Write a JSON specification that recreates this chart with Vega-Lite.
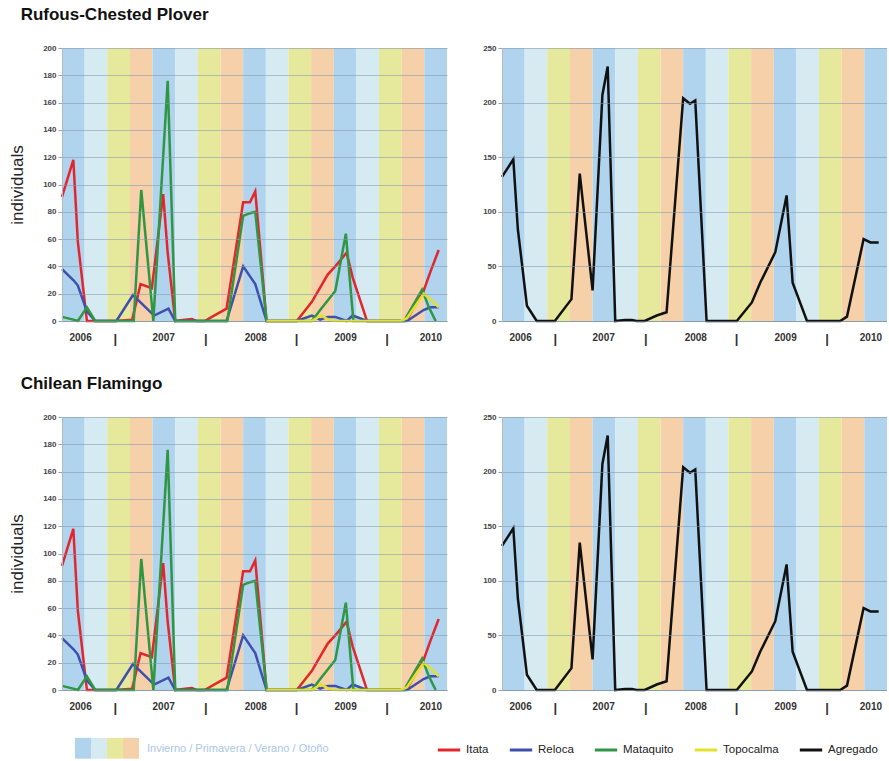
{
  "$schema": "https://vega.github.io/schema/vega-lite/v6.json",
  "padding": {"left": 8, "top": 6, "right": 0, "bottom": 0},
  "config": {"font": "Liberation Sans", "view": {"stroke": null}},
  "datasets": {
    "seasons": [
      {"season": "Invierno", "start": 0, "end": 3}, {"season": "Primavera", "start": 3, "end": 6}, {"season": "Verano", "start": 6, "end": 9}, {"season": "Otoño", "start": 9, "end": 12},
      {"season": "Invierno", "start": 12, "end": 15}, {"season": "Primavera", "start": 15, "end": 18}, {"season": "Verano", "start": 18, "end": 21}, {"season": "Otoño", "start": 21, "end": 24},
      {"season": "Invierno", "start": 24, "end": 27}, {"season": "Primavera", "start": 27, "end": 30}, {"season": "Verano", "start": 30, "end": 33}, {"season": "Otoño", "start": 33, "end": 36},
      {"season": "Invierno", "start": 36, "end": 39}, {"season": "Primavera", "start": 39, "end": 42}, {"season": "Verano", "start": 42, "end": 45}, {"season": "Otoño", "start": 45, "end": 48},
      {"season": "Invierno", "start": 48, "end": 51}
    ],
    "sites": [
      {"month": 0, "site": "Itata", "value": 91}, {"month": 1.5, "site": "Itata", "value": 118}, {"month": 2.1, "site": "Itata", "value": 58}, {"month": 3.3, "site": "Itata", "value": 0}, {"month": 4.6, "site": "Itata", "value": 0}, {"month": 7, "site": "Itata", "value": 0}, {"month": 9.3, "site": "Itata", "value": 1}, {"month": 10.4, "site": "Itata", "value": 27}, {"month": 11.9, "site": "Itata", "value": 24}, {"month": 13.4, "site": "Itata", "value": 93}, {"month": 14, "site": "Itata", "value": 50}, {"month": 15, "site": "Itata", "value": 0}, {"month": 16.3, "site": "Itata", "value": 1}, {"month": 17.2, "site": "Itata", "value": 1.5}, {"month": 17.8, "site": "Itata", "value": 0}, {"month": 18.9, "site": "Itata", "value": 0}, {"month": 20.5, "site": "Itata", "value": 5}, {"month": 21.8, "site": "Itata", "value": 9}, {"month": 24, "site": "Itata", "value": 87}, {"month": 24.9, "site": "Itata", "value": 87}, {"month": 25.6, "site": "Itata", "value": 95}, {"month": 27.1, "site": "Itata", "value": 0}, {"month": 29.3, "site": "Itata", "value": 0}, {"month": 31.1, "site": "Itata", "value": 0}, {"month": 33.1, "site": "Itata", "value": 14}, {"month": 35.2, "site": "Itata", "value": 34}, {"month": 36.2, "site": "Itata", "value": 40}, {"month": 37.7, "site": "Itata", "value": 50}, {"month": 38.5, "site": "Itata", "value": 32}, {"month": 40.4, "site": "Itata", "value": 0}, {"month": 44.8, "site": "Itata", "value": 0}, {"month": 45.7, "site": "Itata", "value": 1}, {"month": 47.9, "site": "Itata", "value": 22}, {"month": 48.8, "site": "Itata", "value": 36}, {"month": 49.9, "site": "Itata", "value": 52},
      {"month": 0, "site": "Reloca", "value": 38}, {"month": 1.5, "site": "Reloca", "value": 30}, {"month": 2.1, "site": "Reloca", "value": 26}, {"month": 3.3, "site": "Reloca", "value": 7}, {"month": 4.4, "site": "Reloca", "value": 0}, {"month": 7.2, "site": "Reloca", "value": 0}, {"month": 9.4, "site": "Reloca", "value": 19}, {"month": 12.2, "site": "Reloca", "value": 4}, {"month": 14.1, "site": "Reloca", "value": 9}, {"month": 15, "site": "Reloca", "value": 0}, {"month": 16.3, "site": "Reloca", "value": 0}, {"month": 18.9, "site": "Reloca", "value": 0}, {"month": 21.8, "site": "Reloca", "value": 0}, {"month": 24, "site": "Reloca", "value": 40}, {"month": 25.6, "site": "Reloca", "value": 27}, {"month": 27.1, "site": "Reloca", "value": 0}, {"month": 29.3, "site": "Reloca", "value": 0}, {"month": 31.1, "site": "Reloca", "value": 0}, {"month": 33.1, "site": "Reloca", "value": 4}, {"month": 34.2, "site": "Reloca", "value": 1}, {"month": 35.2, "site": "Reloca", "value": 3}, {"month": 36.2, "site": "Reloca", "value": 3}, {"month": 37.7, "site": "Reloca", "value": 0}, {"month": 38.5, "site": "Reloca", "value": 4}, {"month": 40.4, "site": "Reloca", "value": 0}, {"month": 44.8, "site": "Reloca", "value": 0}, {"month": 45.7, "site": "Reloca", "value": 0}, {"month": 47.9, "site": "Reloca", "value": 8}, {"month": 48.8, "site": "Reloca", "value": 10}, {"month": 49.9, "site": "Reloca", "value": 10},
      {"month": 0, "site": "Mataquito", "value": 3}, {"month": 1.5, "site": "Mataquito", "value": 1}, {"month": 2.1, "site": "Mataquito", "value": 0}, {"month": 3.3, "site": "Mataquito", "value": 10}, {"month": 4.4, "site": "Mataquito", "value": 0}, {"month": 7, "site": "Mataquito", "value": 0}, {"month": 9.5, "site": "Mataquito", "value": 0}, {"month": 10.5, "site": "Mataquito", "value": 96}, {"month": 12.1, "site": "Mataquito", "value": 0}, {"month": 14, "site": "Mataquito", "value": 176}, {"month": 15, "site": "Mataquito", "value": 0}, {"month": 16.3, "site": "Mataquito", "value": 0}, {"month": 18.9, "site": "Mataquito", "value": 0}, {"month": 21.9, "site": "Mataquito", "value": 0}, {"month": 24, "site": "Mataquito", "value": 77}, {"month": 24.9, "site": "Mataquito", "value": 79}, {"month": 25.6, "site": "Mataquito", "value": 80}, {"month": 27.1, "site": "Mataquito", "value": 0}, {"month": 29.3, "site": "Mataquito", "value": 0}, {"month": 31.1, "site": "Mataquito", "value": 0}, {"month": 33.1, "site": "Mataquito", "value": 0}, {"month": 34.2, "site": "Mataquito", "value": 8}, {"month": 36.2, "site": "Mataquito", "value": 22}, {"month": 37.6, "site": "Mataquito", "value": 64}, {"month": 38.6, "site": "Mataquito", "value": 0}, {"month": 40.4, "site": "Mataquito", "value": 0}, {"month": 45.3, "site": "Mataquito", "value": 0}, {"month": 47.7, "site": "Mataquito", "value": 23}, {"month": 48.6, "site": "Mataquito", "value": 10}, {"month": 49.5, "site": "Mataquito", "value": 0},
      {"month": 27.1, "site": "Topocalma", "value": 0}, {"month": 29.3, "site": "Topocalma", "value": 0}, {"month": 31.1, "site": "Topocalma", "value": 0}, {"month": 33.1, "site": "Topocalma", "value": 0}, {"month": 34.3, "site": "Topocalma", "value": 4}, {"month": 35.3, "site": "Topocalma", "value": 1}, {"month": 36.2, "site": "Topocalma", "value": 0}, {"month": 40.4, "site": "Topocalma", "value": 0}, {"month": 44.8, "site": "Topocalma", "value": 0}, {"month": 45.7, "site": "Topocalma", "value": 2}, {"month": 47.9, "site": "Topocalma", "value": 20}, {"month": 48.8, "site": "Topocalma", "value": 16}, {"month": 49.9, "site": "Topocalma", "value": 10}
    ],
    "agg": [
      {"month": 0, "site": "Agregado", "value": 132}, {"month": 1.5, "site": "Agregado", "value": 148}, {"month": 2.1, "site": "Agregado", "value": 84}, {"month": 3.3, "site": "Agregado", "value": 14}, {"month": 4.6, "site": "Agregado", "value": 0}, {"month": 7, "site": "Agregado", "value": 0}, {"month": 9.2, "site": "Agregado", "value": 20}, {"month": 10.3, "site": "Agregado", "value": 135}, {"month": 12, "site": "Agregado", "value": 28}, {"month": 13.3, "site": "Agregado", "value": 207}, {"month": 14, "site": "Agregado", "value": 233}, {"month": 15, "site": "Agregado", "value": 0}, {"month": 16.3, "site": "Agregado", "value": 1}, {"month": 17.2, "site": "Agregado", "value": 1}, {"month": 17.8, "site": "Agregado", "value": 0}, {"month": 18.9, "site": "Agregado", "value": 0}, {"month": 20.5, "site": "Agregado", "value": 5}, {"month": 21.8, "site": "Agregado", "value": 8}, {"month": 24, "site": "Agregado", "value": 204}, {"month": 24.9, "site": "Agregado", "value": 199}, {"month": 25.6, "site": "Agregado", "value": 202}, {"month": 27.1, "site": "Agregado", "value": 0}, {"month": 29.3, "site": "Agregado", "value": 0}, {"month": 31.1, "site": "Agregado", "value": 0}, {"month": 33.1, "site": "Agregado", "value": 17}, {"month": 34.2, "site": "Agregado", "value": 35}, {"month": 36.2, "site": "Agregado", "value": 63}, {"month": 37.7, "site": "Agregado", "value": 115}, {"month": 38.5, "site": "Agregado", "value": 35}, {"month": 40.4, "site": "Agregado", "value": 0}, {"month": 44.8, "site": "Agregado", "value": 0}, {"month": 45.7, "site": "Agregado", "value": 4}, {"month": 47.9, "site": "Agregado", "value": 75}, {"month": 48.8, "site": "Agregado", "value": 72}, {"month": 49.9, "site": "Agregado", "value": 72}
    ]
  },
  "spacing": 30,
  "vconcat": [
    {
      "title": {"text": "Rufous-Chested Plover", "anchor": "start", "fontSize": 17, "fontWeight": "bold", "color": "#111", "offset": 20, "dx": 12},
      "spacing": 35,
      "hconcat": [
        {
          "width": 385, "height": 273,
          "layer": [
            {
              "data": {"name": "seasons"},
              "mark": {"type": "rect", "opacity": 1},
              "encoding": {
                "x": {"field": "start", "type": "quantitative", "scale": {"domain": [0, 51], "nice": false, "zero": false},
                  "axis": {"values": [2.4, 7, 13.4, 19, 25.6, 31, 37.5, 43, 48.8], "labelExpr": "(datum.value==7||datum.value==19||datum.value==31||datum.value==43) ? '|' : datum.value<5 ? '2006' : datum.value<17 ? '2007' : datum.value<29 ? '2008' : datum.value<41 ? '2009' : '2010'", "labelFontSize": {"condition": {"test": "datum.value==7||datum.value==19||datum.value==31||datum.value==43", "value": 13}, "value": 10}, "ticks": false, "grid": false, "domain": true, "domainColor": "#9aa4ad", "labelFontWeight": "bold", "labelColor": "#333", "labelPadding": 11, "labelOverlap": false, "labelFlush": false, "title": null}},
                "x2": {"field": "end"},
                "fill": {"field": "season", "type": "nominal", "scale": {"domain": ["Invierno", "Primavera", "Verano", "Otoño"], "range": ["#b0d3ee", "#d5eaf1", "#e6e89b", "#f5d0a8"]},
                  "legend": {"orient": "none", "legendX": 13, "legendY": 692, "direction": "horizontal", "symbolType": "M-1,-1.3H1V1.3H-1Z", "symbolSize": 256, "symbolStrokeWidth": 0, "symbolOpacity": 1, "labelExpr": "''", "labelOffset": 0, "columnPadding": 0, "title": "Invierno / Primavera / Verano / Otoño", "titleLimit": 400, "titleOrient": "right", "titleColor": "#a9c8e4", "titleFontWeight": "normal", "titleFontSize": 11, "titlePadding": 8}}
              }
            },
            {
              "data": {"name": "sites"},
              "mark": {"type": "line", "strokeWidth": 2.5},
              "encoding": {
                "x": {"field": "month", "type": "quantitative", "scale": {"domain": [0, 51], "nice": false, "zero": false},
                  "axis": {"values": [2.4, 7, 13.4, 19, 25.6, 31, 37.5, 43, 48.8], "labelExpr": "(datum.value==7||datum.value==19||datum.value==31||datum.value==43) ? '|' : datum.value<5 ? '2006' : datum.value<17 ? '2007' : datum.value<29 ? '2008' : datum.value<41 ? '2009' : '2010'", "labelFontSize": {"condition": {"test": "datum.value==7||datum.value==19||datum.value==31||datum.value==43", "value": 13}, "value": 10}, "ticks": false, "grid": false, "domain": true, "domainColor": "#9aa4ad", "labelFontWeight": "bold", "labelColor": "#333", "labelPadding": 11, "labelOverlap": false, "labelFlush": false, "title": null}},
                "y": {"field": "value", "type": "quantitative", "scale": {"domain": [0, 200], "nice": false},
                  "axis": {"values": [0, 20, 40, 60, 80, 100, 120, 140, 160, 180, 200], "grid": true, "gridColor": "#7f97ad", "gridOpacity": 0.55, "zindex": 1, "domain": true, "domainColor": "#b0b8c0", "tickSize": 4, "tickColor": "#9aa4ad", "labelFontSize": 8, "labelFontWeight": "bold", "labelColor": "#444", "labelPadding": 2, "title": "individuals", "titleFontSize": 17, "titleFontWeight": "normal", "titleColor": "#222", "titlePadding": 16}},
                "stroke": {"field": "site", "type": "nominal", "scale": {"domain": ["Itata", "Reloca", "Mataquito", "Topocalma", "Agregado"], "range": ["#e3262b", "#3f4fae", "#2f9642", "#e2e22c", "#111111"]},
                  "legend": {"orient": "none", "legendX": 374, "legendY": 689, "direction": "horizontal", "symbolType": "stroke", "symbolStrokeWidth": 3, "symbolSize": 500, "labelFontSize": 11.5, "labelColor": "#222", "columnPadding": 14, "title": null}}
              }
            }
          ]
        },
        {
          "width": 385, "height": 273,
          "layer": [
            {
              "data": {"name": "seasons"},
              "mark": {"type": "rect", "opacity": 1},
              "encoding": {
                "x": {"field": "start", "type": "quantitative", "scale": {"domain": [0, 51], "nice": false, "zero": false},
                  "axis": {"values": [2.4, 7, 13.4, 19, 25.6, 31, 37.5, 43, 48.8], "labelExpr": "(datum.value==7||datum.value==19||datum.value==31||datum.value==43) ? '|' : datum.value<5 ? '2006' : datum.value<17 ? '2007' : datum.value<29 ? '2008' : datum.value<41 ? '2009' : '2010'", "labelFontSize": {"condition": {"test": "datum.value==7||datum.value==19||datum.value==31||datum.value==43", "value": 13}, "value": 10}, "ticks": false, "grid": false, "domain": true, "domainColor": "#9aa4ad", "labelFontWeight": "bold", "labelColor": "#333", "labelPadding": 11, "labelOverlap": false, "labelFlush": false, "title": null}},
                "x2": {"field": "end"},
                "fill": {"field": "season", "type": "nominal", "scale": {"domain": ["Invierno", "Primavera", "Verano", "Otoño"], "range": ["#b0d3ee", "#d5eaf1", "#e6e89b", "#f5d0a8"]},
                  "legend": {"orient": "none", "legendX": 13, "legendY": 692, "direction": "horizontal", "symbolType": "M-1,-1.3H1V1.3H-1Z", "symbolSize": 256, "symbolStrokeWidth": 0, "symbolOpacity": 1, "labelExpr": "''", "labelOffset": 0, "columnPadding": 0, "title": "Invierno / Primavera / Verano / Otoño", "titleLimit": 400, "titleOrient": "right", "titleColor": "#a9c8e4", "titleFontWeight": "normal", "titleFontSize": 11, "titlePadding": 8}}
              }
            },
            {
              "data": {"name": "agg"},
              "mark": {"type": "line", "strokeWidth": 2.5},
              "encoding": {
                "x": {"field": "month", "type": "quantitative", "scale": {"domain": [0, 51], "nice": false, "zero": false},
                  "axis": {"values": [2.4, 7, 13.4, 19, 25.6, 31, 37.5, 43, 48.8], "labelExpr": "(datum.value==7||datum.value==19||datum.value==31||datum.value==43) ? '|' : datum.value<5 ? '2006' : datum.value<17 ? '2007' : datum.value<29 ? '2008' : datum.value<41 ? '2009' : '2010'", "labelFontSize": {"condition": {"test": "datum.value==7||datum.value==19||datum.value==31||datum.value==43", "value": 13}, "value": 10}, "ticks": false, "grid": false, "domain": true, "domainColor": "#9aa4ad", "labelFontWeight": "bold", "labelColor": "#333", "labelPadding": 11, "labelOverlap": false, "labelFlush": false, "title": null}},
                "y": {"field": "value", "type": "quantitative", "scale": {"domain": [0, 250], "nice": false},
                  "axis": {"values": [0, 50, 100, 150, 200, 250], "grid": true, "gridColor": "#7f97ad", "gridOpacity": 0.55, "zindex": 1, "domain": true, "domainColor": "#b0b8c0", "tickSize": 4, "tickColor": "#9aa4ad", "labelFontSize": 8, "labelFontWeight": "bold", "labelColor": "#444", "labelPadding": 2, "title": null}},
                "stroke": {"field": "site", "type": "nominal", "scale": {"domain": ["Itata", "Reloca", "Mataquito", "Topocalma", "Agregado"], "range": ["#e3262b", "#3f4fae", "#2f9642", "#e2e22c", "#111111"]},
                  "legend": {"orient": "none", "legendX": 374, "legendY": 689, "direction": "horizontal", "symbolType": "stroke", "symbolStrokeWidth": 3, "symbolSize": 500, "labelFontSize": 11.5, "labelColor": "#222", "columnPadding": 14, "title": null}}
              }
            }
          ]
        }
      ]
    },
    {
      "title": {"text": "Chilean Flamingo", "anchor": "start", "fontSize": 17, "fontWeight": "bold", "color": "#111", "offset": 20, "dx": 12},
      "spacing": 35,
      "hconcat": [
        {
          "width": 385, "height": 273,
          "layer": [
            {
              "data": {"name": "seasons"},
              "mark": {"type": "rect", "opacity": 1},
              "encoding": {
                "x": {"field": "start", "type": "quantitative", "scale": {"domain": [0, 51], "nice": false, "zero": false},
                  "axis": {"values": [2.4, 7, 13.4, 19, 25.6, 31, 37.5, 43, 48.8], "labelExpr": "(datum.value==7||datum.value==19||datum.value==31||datum.value==43) ? '|' : datum.value<5 ? '2006' : datum.value<17 ? '2007' : datum.value<29 ? '2008' : datum.value<41 ? '2009' : '2010'", "labelFontSize": {"condition": {"test": "datum.value==7||datum.value==19||datum.value==31||datum.value==43", "value": 13}, "value": 10}, "ticks": false, "grid": false, "domain": true, "domainColor": "#9aa4ad", "labelFontWeight": "bold", "labelColor": "#333", "labelPadding": 11, "labelOverlap": false, "labelFlush": false, "title": null}},
                "x2": {"field": "end"},
                "fill": {"field": "season", "type": "nominal", "scale": {"domain": ["Invierno", "Primavera", "Verano", "Otoño"], "range": ["#b0d3ee", "#d5eaf1", "#e6e89b", "#f5d0a8"]},
                  "legend": {"orient": "none", "legendX": 13, "legendY": 692, "direction": "horizontal", "symbolType": "M-1,-1.3H1V1.3H-1Z", "symbolSize": 256, "symbolStrokeWidth": 0, "symbolOpacity": 1, "labelExpr": "''", "labelOffset": 0, "columnPadding": 0, "title": "Invierno / Primavera / Verano / Otoño", "titleLimit": 400, "titleOrient": "right", "titleColor": "#a9c8e4", "titleFontWeight": "normal", "titleFontSize": 11, "titlePadding": 8}}
              }
            },
            {
              "data": {"name": "sites"},
              "mark": {"type": "line", "strokeWidth": 2.5},
              "encoding": {
                "x": {"field": "month", "type": "quantitative", "scale": {"domain": [0, 51], "nice": false, "zero": false},
                  "axis": {"values": [2.4, 7, 13.4, 19, 25.6, 31, 37.5, 43, 48.8], "labelExpr": "(datum.value==7||datum.value==19||datum.value==31||datum.value==43) ? '|' : datum.value<5 ? '2006' : datum.value<17 ? '2007' : datum.value<29 ? '2008' : datum.value<41 ? '2009' : '2010'", "labelFontSize": {"condition": {"test": "datum.value==7||datum.value==19||datum.value==31||datum.value==43", "value": 13}, "value": 10}, "ticks": false, "grid": false, "domain": true, "domainColor": "#9aa4ad", "labelFontWeight": "bold", "labelColor": "#333", "labelPadding": 11, "labelOverlap": false, "labelFlush": false, "title": null}},
                "y": {"field": "value", "type": "quantitative", "scale": {"domain": [0, 200], "nice": false},
                  "axis": {"values": [0, 20, 40, 60, 80, 100, 120, 140, 160, 180, 200], "grid": true, "gridColor": "#7f97ad", "gridOpacity": 0.55, "zindex": 1, "domain": true, "domainColor": "#b0b8c0", "tickSize": 4, "tickColor": "#9aa4ad", "labelFontSize": 8, "labelFontWeight": "bold", "labelColor": "#444", "labelPadding": 2, "title": "individuals", "titleFontSize": 17, "titleFontWeight": "normal", "titleColor": "#222", "titlePadding": 16}},
                "stroke": {"field": "site", "type": "nominal", "scale": {"domain": ["Itata", "Reloca", "Mataquito", "Topocalma", "Agregado"], "range": ["#e3262b", "#3f4fae", "#2f9642", "#e2e22c", "#111111"]},
                  "legend": {"orient": "none", "legendX": 374, "legendY": 689, "direction": "horizontal", "symbolType": "stroke", "symbolStrokeWidth": 3, "symbolSize": 500, "labelFontSize": 11.5, "labelColor": "#222", "columnPadding": 14, "title": null}}
              }
            }
          ]
        },
        {
          "width": 385, "height": 273,
          "layer": [
            {
              "data": {"name": "seasons"},
              "mark": {"type": "rect", "opacity": 1},
              "encoding": {
                "x": {"field": "start", "type": "quantitative", "scale": {"domain": [0, 51], "nice": false, "zero": false},
                  "axis": {"values": [2.4, 7, 13.4, 19, 25.6, 31, 37.5, 43, 48.8], "labelExpr": "(datum.value==7||datum.value==19||datum.value==31||datum.value==43) ? '|' : datum.value<5 ? '2006' : datum.value<17 ? '2007' : datum.value<29 ? '2008' : datum.value<41 ? '2009' : '2010'", "labelFontSize": {"condition": {"test": "datum.value==7||datum.value==19||datum.value==31||datum.value==43", "value": 13}, "value": 10}, "ticks": false, "grid": false, "domain": true, "domainColor": "#9aa4ad", "labelFontWeight": "bold", "labelColor": "#333", "labelPadding": 11, "labelOverlap": false, "labelFlush": false, "title": null}},
                "x2": {"field": "end"},
                "fill": {"field": "season", "type": "nominal", "scale": {"domain": ["Invierno", "Primavera", "Verano", "Otoño"], "range": ["#b0d3ee", "#d5eaf1", "#e6e89b", "#f5d0a8"]},
                  "legend": {"orient": "none", "legendX": 13, "legendY": 692, "direction": "horizontal", "symbolType": "M-1,-1.3H1V1.3H-1Z", "symbolSize": 256, "symbolStrokeWidth": 0, "symbolOpacity": 1, "labelExpr": "''", "labelOffset": 0, "columnPadding": 0, "title": "Invierno / Primavera / Verano / Otoño", "titleLimit": 400, "titleOrient": "right", "titleColor": "#a9c8e4", "titleFontWeight": "normal", "titleFontSize": 11, "titlePadding": 8}}
              }
            },
            {
              "data": {"name": "agg"},
              "mark": {"type": "line", "strokeWidth": 2.5},
              "encoding": {
                "x": {"field": "month", "type": "quantitative", "scale": {"domain": [0, 51], "nice": false, "zero": false},
                  "axis": {"values": [2.4, 7, 13.4, 19, 25.6, 31, 37.5, 43, 48.8], "labelExpr": "(datum.value==7||datum.value==19||datum.value==31||datum.value==43) ? '|' : datum.value<5 ? '2006' : datum.value<17 ? '2007' : datum.value<29 ? '2008' : datum.value<41 ? '2009' : '2010'", "labelFontSize": {"condition": {"test": "datum.value==7||datum.value==19||datum.value==31||datum.value==43", "value": 13}, "value": 10}, "ticks": false, "grid": false, "domain": true, "domainColor": "#9aa4ad", "labelFontWeight": "bold", "labelColor": "#333", "labelPadding": 11, "labelOverlap": false, "labelFlush": false, "title": null}},
                "y": {"field": "value", "type": "quantitative", "scale": {"domain": [0, 250], "nice": false},
                  "axis": {"values": [0, 50, 100, 150, 200, 250], "grid": true, "gridColor": "#7f97ad", "gridOpacity": 0.55, "zindex": 1, "domain": true, "domainColor": "#b0b8c0", "tickSize": 4, "tickColor": "#9aa4ad", "labelFontSize": 8, "labelFontWeight": "bold", "labelColor": "#444", "labelPadding": 2, "title": null}},
                "stroke": {"field": "site", "type": "nominal", "scale": {"domain": ["Itata", "Reloca", "Mataquito", "Topocalma", "Agregado"], "range": ["#e3262b", "#3f4fae", "#2f9642", "#e2e22c", "#111111"]},
                  "legend": {"orient": "none", "legendX": 374, "legendY": 689, "direction": "horizontal", "symbolType": "stroke", "symbolStrokeWidth": 3, "symbolSize": 500, "labelFontSize": 11.5, "labelColor": "#222", "columnPadding": 14, "title": null}}
              }
            }
          ]
        }
      ]
    }
  ]
}
